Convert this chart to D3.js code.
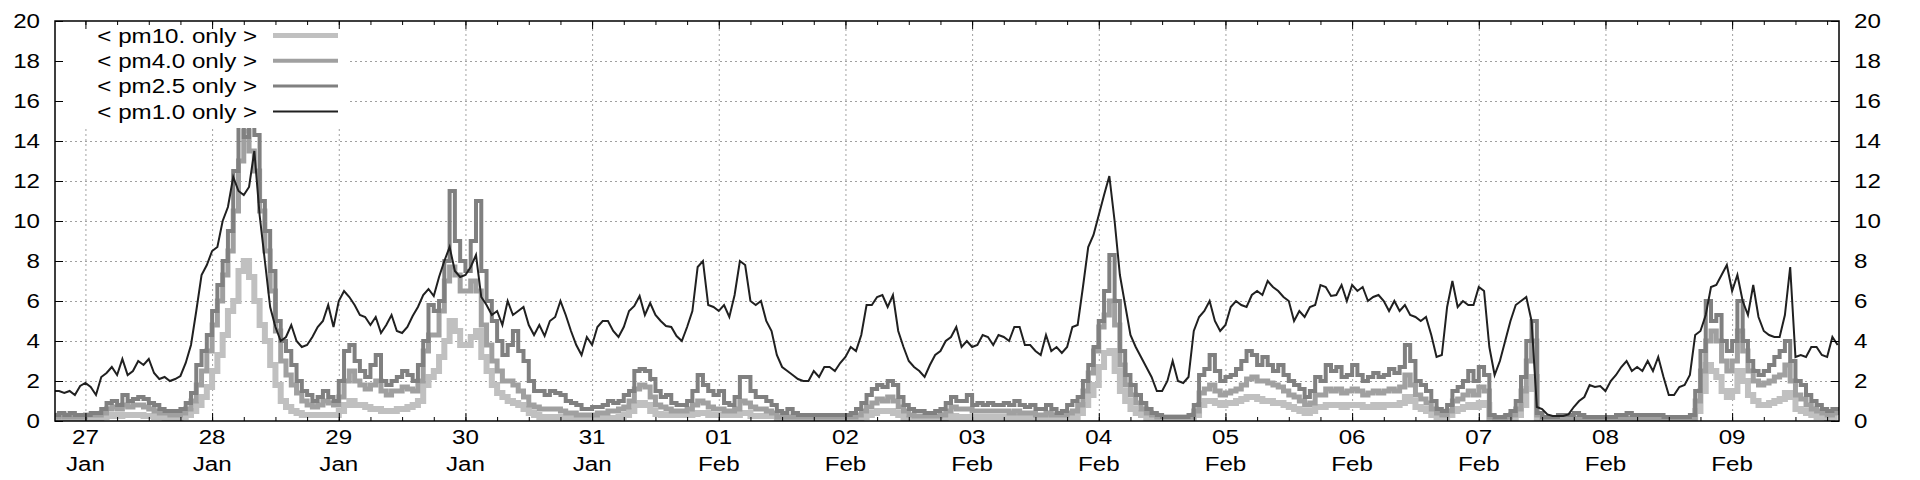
<!DOCTYPE html>
<meta charset="utf-8">
<style>
body { margin: 0; background: #fff; }
text { font-family: 'Liberation Sans', Arial, sans-serif; font-size: 21px; fill: #000; }
.grid line { stroke: #a0a0a0; stroke-width: 1; stroke-dasharray: 2,3; }
.grid path { display: none; }
.axis path { display: none; }
.axis line { stroke: #000; }
</style>
<body>
<script src="https://d3js.org/d3.v7.min.js"></script>
<script>

// hourly readings, first value is 26 Jan 18:00 (UTC), last one 09 Feb 20:00
var firstHour = Date.UTC(2021, 0, 26, 18);

var pm10 = [
  0.1,0.15,0.1,0.1,0.1,0.1,
  0.1,0.15,0.15,0.2,0.25,0.3,0.25,0.3,0.3,0.3,0.3,0.25,0.25,0.2,0.2,0.15,0.15,0.15,0.2,0.3,0.5,0.8,1.2,1.7,
  2.5,3.3,4.3,5.5,6.0,7.5,8.0,7.2,6.0,4.8,4.0,2.8,1.8,1.0,0.7,0.5,0.4,0.3,0.3,0.3,0.3,0.3,0.3,0.3,
  0.5,0.8,1.0,0.8,0.8,0.7,0.6,0.6,0.5,0.5,0.5,0.6,0.6,0.7,0.8,1.0,1.8,2.2,2.5,3.2,4.0,5.0,4.5,3.8,
  3.8,4.2,4.5,3.2,2.5,1.8,1.4,1.2,1.0,0.9,0.8,0.6,0.4,0.3,0.2,0.2,0.2,0.2,0.2,0.15,0.15,0.15,0.15,0.15,
  0.15,0.15,0.15,0.15,0.15,0.2,0.3,0.5,0.8,0.9,0.8,0.5,0.35,0.3,0.3,0.3,0.3,0.3,0.3,0.35,0.4,0.4,0.3,0.3,
  0.3,0.3,0.3,0.3,0.4,0.4,0.25,0.25,0.25,0.25,0.25,0.1,0.1,0.1,0.1,0.1,0.1,0.1,0.1,0.1,0.1,0.1,0.1,0.1,
  0.1,0.1,0.1,0.2,0.3,0.4,0.5,0.5,0.5,0.4,0.3,0.1,0.1,0.1,0.1,0.1,0.1,0.1,0.1,0.2,0.25,0.2,0.2,0.2,
  0.2,0.2,0.2,0.2,0.2,0.2,0.2,0.2,0.2,0.2,0.2,0.2,0.2,0.2,0.2,0.2,0.2,0.2,0.2,0.2,0.4,0.8,1.3,1.8,
  2.7,3.4,3.5,2.5,1.5,1.0,0.6,0.4,0.3,0.1,0.1,0.1,0.1,0.1,0.1,0.1,0.1,0.1,0.3,0.8,1.0,1.0,0.9,0.8,
  0.9,0.9,1.0,1.1,1.2,1.2,1.1,1.0,1.0,0.9,0.9,0.8,0.7,0.6,0.5,0.4,0.5,0.7,0.7,0.8,0.8,0.8,0.7,0.8,
  0.8,0.8,0.7,0.7,0.8,0.7,0.8,0.8,0.8,0.9,1.2,1.0,0.7,0.6,0.5,0.3,0.2,0.2,0.3,0.5,0.6,0.7,0.8,0.7,
  0.9,0.8,0.1,0.1,0.1,0.1,0.1,0.3,0.8,1.6,2.2,0.1,0.1,0.1,0.1,0.1,0.1,0.1,0.1,0.1,0.1,0.1,0.1,0.1,
  0.1,0.1,0.1,0.1,0.1,0.1,0.1,0.1,0.1,0.1,0.1,0.1,0.1,0.1,0.1,0.1,0.1,0.5,1.5,2.8,2.5,2.2,1.5,1.2,
  1.5,2.5,2.0,1.3,1.0,0.8,0.8,0.9,1.0,1.1,1.4,1.2,0.6,0.5,0.4,0.3,0.2,0.2,0.15,0.2,0.2
];

var pm40 = [
  0.2,0.3,0.2,0.2,0.2,0.2,
  0.3,0.3,0.3,0.4,0.6,0.7,0.6,0.8,0.7,0.8,0.8,0.7,0.6,0.5,0.4,0.4,0.3,0.3,0.4,0.6,1.0,1.8,2.5,3.5,
  4.8,6.0,7.3,8.5,10.5,13.0,14.5,13.5,12.5,10.5,8.5,6.5,4.5,3.0,2.3,1.8,1.4,1.0,0.8,0.7,0.8,1.0,0.9,0.8,
  1.2,2.0,2.5,2.0,1.8,1.6,1.8,2.0,1.5,1.3,1.5,1.5,1.7,1.6,1.5,2.0,3.5,4.3,4.3,5.5,7.0,7.7,7.3,6.5,
  6.5,7.0,6.5,4.8,3.8,3.0,2.5,2.0,2.0,1.8,1.5,1.2,0.8,0.7,0.6,0.6,0.6,0.6,0.5,0.4,0.4,0.3,0.3,0.3,
  0.3,0.4,0.4,0.5,0.5,0.6,0.7,1.0,1.6,1.8,1.7,1.2,0.8,0.7,0.6,0.5,0.5,0.5,0.6,0.8,1.0,0.9,0.7,0.6,
  0.6,0.5,0.5,0.6,1.0,0.9,0.7,0.6,0.6,0.5,0.4,0.2,0.2,0.2,0.2,0.2,0.2,0.2,0.2,0.2,0.2,0.2,0.2,0.2,
  0.2,0.2,0.3,0.5,0.7,0.9,1.1,1.0,1.2,1.0,0.7,0.5,0.3,0.25,0.25,0.25,0.25,0.25,0.3,0.5,0.7,0.6,0.6,0.6,
  0.5,0.5,0.5,0.5,0.5,0.5,0.5,0.4,0.5,0.4,0.4,0.4,0.3,0.3,0.4,0.3,0.3,0.3,0.4,0.5,0.8,1.5,2.4,3.5,
  4.7,5.3,6.0,4.8,2.8,1.8,1.3,0.9,0.6,0.4,0.3,0.2,0.2,0.2,0.2,0.2,0.2,0.2,0.5,1.4,1.6,1.8,1.5,1.3,
  1.4,1.5,1.6,1.8,2.1,2.2,2.0,2.0,1.9,1.8,1.7,1.5,1.3,1.2,1.0,0.8,0.9,1.3,1.3,1.6,1.5,1.6,1.4,1.5,
  1.6,1.5,1.3,1.4,1.5,1.4,1.5,1.6,1.5,1.7,2.3,1.8,1.3,1.1,0.9,0.6,0.4,0.3,0.5,1.0,1.1,1.3,1.5,1.3,
  1.7,1.5,0.2,0.15,0.15,0.2,0.3,0.6,1.5,3.0,4.0,0.3,0.15,0.15,0.15,0.15,0.15,0.15,0.15,0.15,0.15,0.15,0.15,0.15,
  0.15,0.15,0.15,0.15,0.15,0.15,0.15,0.15,0.15,0.15,0.15,0.15,0.15,0.15,0.15,0.15,0.15,1.0,2.5,4.0,4.5,4.0,3.0,2.5,
  3.0,4.5,3.5,2.5,2.0,1.8,1.9,2.0,2.2,2.3,2.8,2.0,1.3,1.1,0.8,0.6,0.5,0.4,0.3,0.4,0.3
];

var pm25 = [
  0.3,0.4,0.3,0.4,0.3,0.3,
  0.3,0.4,0.4,0.6,0.9,1.0,0.8,1.3,1.0,1.1,1.2,1.1,0.9,0.8,0.6,0.5,0.5,0.5,0.6,0.9,1.4,2.8,3.5,4.3,
  5.5,6.8,8.0,9.5,12.5,14.8,14.2,14.8,14.3,11.0,9.5,7.5,5.0,4.0,3.5,2.8,2.0,1.5,1.3,1.0,1.2,1.5,1.2,1.0,
  2.0,3.5,3.8,3.0,2.5,2.2,2.8,3.3,2.0,1.8,2.0,2.2,2.5,2.3,2.0,2.8,4.0,5.8,5.5,6.0,8.0,11.5,9.0,8.0,
  7.5,9.0,11.0,7.5,6.0,5.0,4.0,3.3,3.8,4.5,3.5,3.0,2.0,1.5,1.5,1.3,1.5,1.4,1.3,1.0,0.9,0.8,0.6,0.6,
  0.7,0.7,0.8,1.0,0.9,1.0,1.3,1.5,2.5,2.6,2.5,2.1,1.5,1.2,1.3,0.9,0.8,0.8,1.0,1.5,2.3,1.8,1.5,1.3,
  1.5,0.9,0.8,1.2,2.2,2.2,1.5,1.2,1.2,1.0,0.8,0.5,0.4,0.6,0.4,0.3,0.3,0.3,0.3,0.3,0.3,0.3,0.3,0.3,
  0.3,0.4,0.6,0.9,1.3,1.6,1.8,1.7,2.0,1.8,1.2,0.8,0.6,0.5,0.5,0.4,0.4,0.5,0.6,0.9,1.2,1.0,1.0,1.3,
  0.8,0.9,0.8,0.9,0.8,0.8,0.9,0.8,1.0,0.8,0.7,0.8,0.6,0.6,0.8,0.6,0.4,0.5,0.8,1.0,1.2,2.0,2.8,3.7,
  5.0,6.5,8.3,6.0,3.5,2.3,1.8,1.3,0.9,0.6,0.4,0.3,0.2,0.2,0.2,0.2,0.2,0.3,0.8,2.3,2.6,3.3,2.5,2.0,
  2.2,2.3,2.6,3.0,3.5,3.3,2.8,3.2,2.8,2.5,2.8,2.3,2.0,1.8,1.6,1.2,1.5,2.2,2.0,2.8,2.5,2.7,2.2,2.3,
  2.8,2.3,2.0,2.2,2.4,2.2,2.3,2.6,2.4,2.7,3.8,3.0,2.0,1.8,1.5,1.0,0.6,0.5,0.8,1.5,1.7,2.0,2.5,2.0,
  2.7,2.3,0.3,0.2,0.2,0.3,0.5,1.0,2.2,4.0,5.0,0.4,0.2,0.2,0.2,0.3,0.3,0.3,0.4,0.3,0.2,0.2,0.2,0.2,
  0.2,0.2,0.3,0.3,0.4,0.3,0.3,0.3,0.3,0.3,0.3,0.2,0.2,0.2,0.2,0.2,0.3,1.5,3.5,6.0,5.0,5.3,4.0,3.5,
  4.0,6.0,4.0,3.0,2.5,2.3,2.5,2.8,3.2,3.5,4.0,3.0,2.0,1.8,1.3,1.0,0.8,0.6,0.5,0.6,0.5
];

var pm10only = [
  1.5,1.5,1.4,1.5,1.3,1.75,
  1.9,1.7,1.3,2.2,2.4,2.7,2.3,3.1,2.3,2.5,3.0,2.8,3.1,2.4,2.1,2.2,2.0,2.1,2.25,2.9,3.8,5.5,7.3,7.8,
  8.5,8.7,10.0,10.7,12.2,11.5,11.3,11.7,13.5,10.3,8.0,5.7,4.7,4.0,4.2,4.8,4.0,3.7,3.8,4.2,4.7,5.0,5.8,4.7,
  6.0,6.5,6.2,5.8,5.3,5.2,4.8,5.2,4.4,4.8,5.3,4.5,4.4,4.7,5.25,5.7,6.3,6.6,6.25,7.2,8.0,8.7,7.5,7.2,
  7.3,7.7,8.3,6.2,5.8,5.3,5.5,4.8,6.0,5.3,5.5,5.7,4.8,4.3,4.8,4.25,5.0,5.2,6.0,5.3,4.5,3.8,3.3,4.2,
  3.8,4.7,5.0,5.0,4.5,4.2,4.7,5.5,5.75,6.25,5.3,5.9,5.3,5.0,4.75,4.7,4.25,4.0,4.7,5.5,7.7,8.0,5.8,5.7,
  5.5,5.8,5.2,6.3,8.0,7.8,6.0,5.8,6.0,5.0,4.5,3.3,2.7,2.5,2.3,2.1,2.0,2.0,2.5,2.2,2.7,2.7,2.5,2.9,
  3.2,3.7,3.5,4.3,5.8,5.8,6.2,6.3,5.7,6.3,4.5,3.7,3.0,2.7,2.5,2.2,2.8,3.3,3.5,4.0,4.2,4.7,3.7,4.0,
  3.7,3.8,4.3,4.2,3.8,4.3,4.2,4.0,4.7,4.7,3.8,3.8,3.5,3.3,4.3,3.5,3.7,3.4,3.7,4.7,4.8,6.7,8.7,9.3,
  10.3,11.3,12.25,10.0,7.3,5.8,4.3,3.7,3.2,2.7,2.2,1.5,1.5,2.0,3.0,2.0,1.9,2.2,4.5,5.2,5.5,6.0,5.0,4.5,
  4.8,5.7,6.0,5.8,5.7,6.3,6.5,6.3,7.0,6.7,6.5,6.2,6.0,5.0,5.5,5.2,5.7,5.8,6.8,6.7,6.25,6.3,6.8,6.0,
  6.8,6.5,6.7,6.0,6.2,6.3,6.0,5.5,6.0,5.5,5.8,5.3,5.2,5.0,5.2,4.3,3.2,3.3,5.7,7.0,5.7,6.0,5.8,5.8,
  6.7,6.5,3.7,2.3,3.0,4.0,5.0,5.8,6.0,6.2,5.0,0.7,0.6,0.33,0.25,0.25,0.25,0.33,0.7,1.0,1.2,1.8,1.7,1.75,
  1.5,2.0,2.3,2.7,3.0,2.5,2.7,2.5,3.0,2.5,3.2,2.2,1.3,1.3,1.7,1.8,2.3,4.3,4.5,5.3,6.7,6.8,7.3,7.8,
  6.5,7.3,6.0,5.3,6.8,5.2,4.5,4.3,4.2,4.2,5.3,7.7,3.2,3.3,3.2,3.7,3.7,3.3,3.2,4.2,3.8
];

var seriesLabels = ["< pm10. only >", "< pm4.0 only >", "< pm2.5 only >", "< pm1.0 only >"];
var seriesValues = [pm10, pm40, pm25, pm10only];
var seriesColors = ["#c0c0c0", "#a0a0a0", "#808080", "#202020"];
var keyWidths = [5, 4, 3, 2];
var lineWidths = [6, 5, 4, 2];

var yTicks = [0, 2, 4, 6, 8, 10, 12, 14, 16, 18, 20];
var timeRange = [Date.UTC(2021, 0, 26, 18, 14), Date.UTC(2021, 1, 9, 20, 15)];

var margin = {top: 21, right: 81, bottom: 59, left: 55},
    width = 1920 - margin.left - margin.right,
    height = 480 - margin.top - margin.bottom;

// the text in the picture is a bit wider than the font
var sx = 1.15;
function stretch(sel) {
  sel.each(function() {
    var t = d3.select(this);
    var tx = +t.attr("x") || 0, ty = +t.attr("y") || 0;
    t.attr("x", 0).attr("y", 0)
     .attr("transform", "translate(" + tx + "," + ty + ") scale(" + sx + ",1)");
  });
}

var x = d3.scaleUtc().domain(timeRange).range([0, width]);
var y = d3.scaleLinear().domain([0, 20]).range([height, 0]);

var svg = d3.select("body").append("svg")
    .attr("width", 1920)
    .attr("height", 480)
  .append("g")
    .attr("transform", "translate(" + margin.left + "," + margin.top + ")");

var days = d3.utcDay.range(d3.utcDay.ceil(x.domain()[0]), x.domain()[1]);
var quarters = d3.utcHour.every(6).range(x.domain()[0], x.domain()[1]);

// grid
svg.append("g").attr("class", "grid")
    .call(d3.axisLeft(y).tickValues(yTicks.slice(1, -1)).tickSize(-width).tickFormat(""));
svg.append("g").attr("class", "grid")
    .attr("transform", "translate(0," + height + ")")
    .call(d3.axisBottom(x).tickValues(days).tickSize(-height).tickFormat(""));

// data
svg.append("clipPath").attr("id", "clip")
  .append("rect").attr("width", width).attr("height", height);

var plot = svg.append("g").attr("clip-path", "url(#clip)");

seriesValues.forEach(function(vals, k) {
  var line = d3.line()
      .x(function(d, i) { return x(firstHour + i * 3600e3); })
      .y(function(d) { return y(d); })
      .curve(k < 3 ? d3.curveStepAfter : d3.curveLinear);
  plot.append("path")
      .datum(vals)
      .attr("fill", "none")
      .attr("stroke", seriesColors[k])
      .attr("stroke-width", lineWidths[k])
      .attr("d", line);
});

// legend, opaque box
var legend = svg.append("g");
legend.append("rect")
    .attr("x", 1).attr("y", 1)
    .attr("width", 294).attr("height", 106)
    .attr("fill", "#fff");
seriesLabels.forEach(function(s, k) {
  var ly = 14.5 + k * 25.3;
  legend.append("text")
      .attr("x", 202).attr("y", ly).attr("dy", "0.35em")
      .attr("text-anchor", "end")
      .text(s)
      .call(stretch);
  legend.append("line")
      .attr("x1", 218).attr("x2", 283)
      .attr("y1", ly).attr("y2", ly)
      .attr("stroke", seriesColors[k])
      .attr("stroke-width", keyWidths[k]);
});

// axes
svg.append("g").attr("class", "axis")
    .call(d3.axisLeft(y).tickValues(yTicks).tickSize(-8).tickPadding(15))
    .selectAll("text").style("font-size", "21px").call(stretch);
svg.append("g").attr("class", "axis")
    .attr("transform", "translate(" + width + ",0)")
    .call(d3.axisRight(y).tickValues(yTicks).tickSize(-8).tickPadding(15))
    .selectAll("text").style("font-size", "21px").call(stretch);

svg.append("g").attr("class", "axis")
    .attr("transform", "translate(0," + height + ")")
    .call(d3.axisBottom(x).tickValues(quarters).tickSize(-4).tickFormat(""));
svg.append("g").attr("class", "axis")
    .attr("transform", "translate(0," + height + ")")
    .call(d3.axisBottom(x).tickValues(days).tickSize(-8).tickFormat(""));
svg.append("g").attr("class", "axis")
    .call(d3.axisTop(x).tickValues(quarters).tickSize(-4).tickFormat(""));
svg.append("g").attr("class", "axis")
    .call(d3.axisTop(x).tickValues(days).tickSize(-8).tickFormat(""));

var dayFmt = d3.utcFormat("%d"), monFmt = d3.utcFormat("%b");
var lab = svg.append("g").selectAll("text").data(days).enter().append("text")
    .attr("text-anchor", "middle")
    .attr("transform", function(d) { return "translate(" + x(d) + "," + height + ") scale(" + sx + ",1)"; });
lab.append("tspan").attr("x", 0).attr("y", 23).text(function(d) { return dayFmt(d); });
lab.append("tspan").attr("x", 0).attr("y", 50).text(function(d) { return monFmt(d); });

// border
svg.append("rect")
    .attr("width", width).attr("height", height)
    .attr("fill", "none")
    .attr("stroke", "#000")
    .attr("stroke-width", 1.5);

</script>
</body>
